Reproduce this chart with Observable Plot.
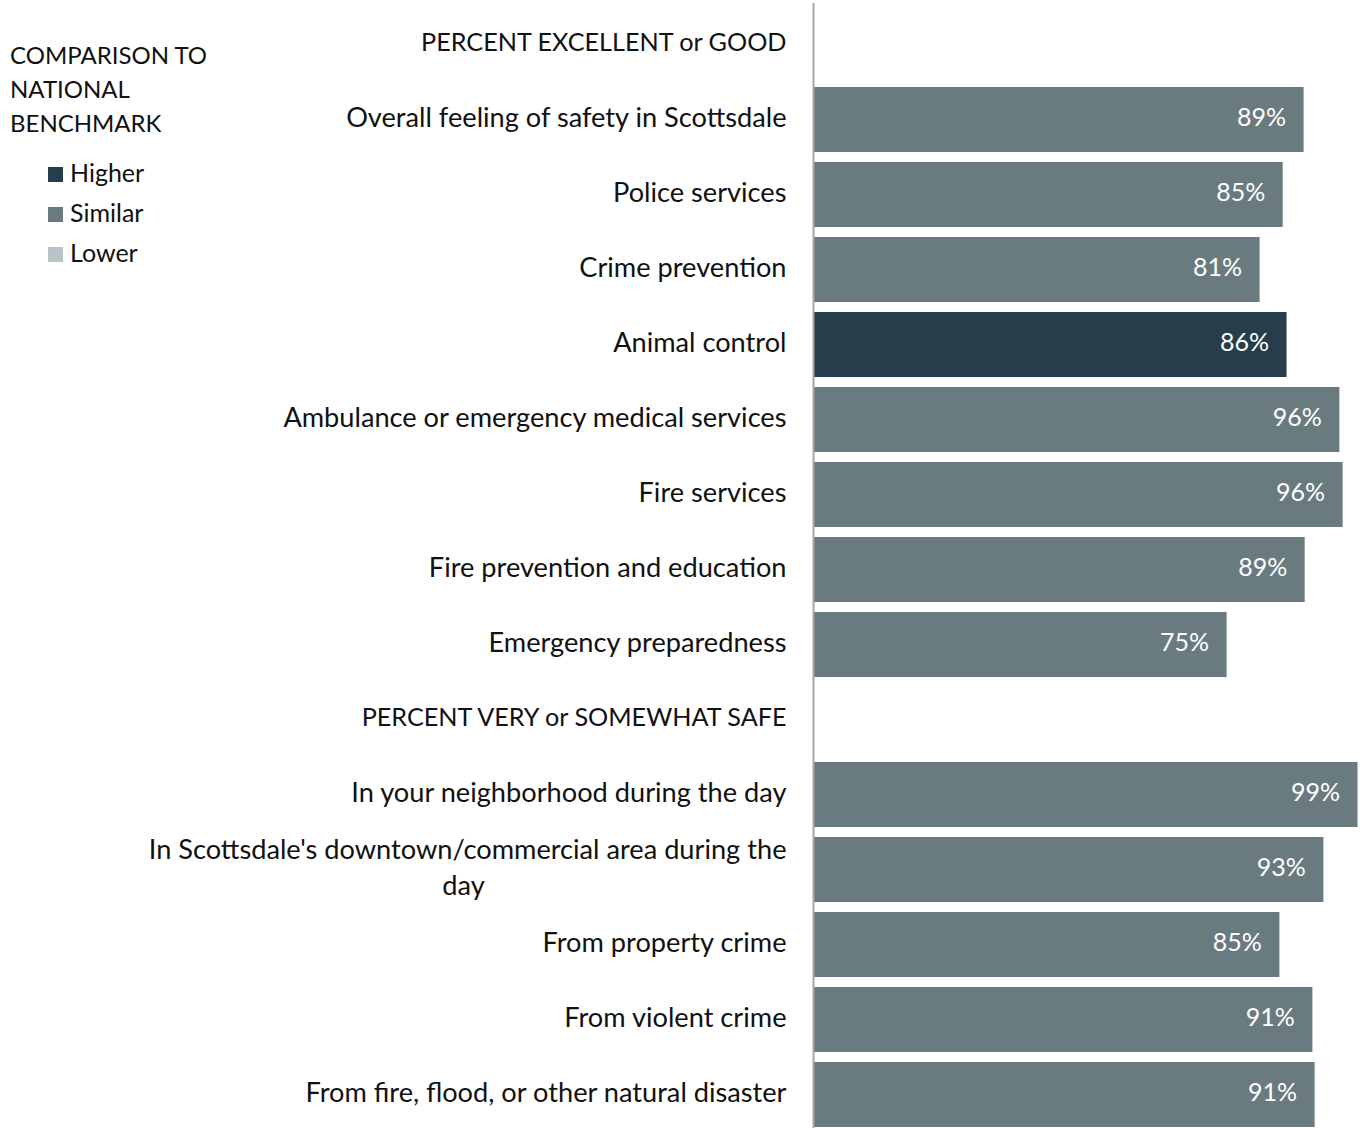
<!DOCTYPE html>
<html>
<head>
<meta charset="utf-8">
<script src="https://cdn.jsdelivr.net/npm/d3@7"></script>
<script src="https://cdn.jsdelivr.net/npm/@observablehq/plot@0.6"></script>
<style>
  html, body { margin: 0; padding: 0; background: #fff; overflow: hidden; }
  #wrap { position: relative; width: 1363px; height: 1128px; overflow: hidden; font-family: Lato, "Open Sans", sans-serif; }
  #legend { position: absolute; left: 10px; top: 38px; color: #111; font-size: 24px; line-height: 34px; }
  #legend .items { margin-top: 12px; margin-left: 38px; line-height: 40px; font-size: 25px; }
  #legend .sw { display: inline-block; width: 15px; height: 15px; margin-right: 7px; vertical-align: 0px; }
</style>
</head>
<body>
<div id="wrap">
  <div id="chart"></div>
  <div id="legend"></div>
</div>
<script>
const categories = [
  "PERCENT EXCELLENT or GOOD",
  "Overall feeling of safety in Scottsdale",
  "Police services",
  "Crime prevention",
  "Animal control",
  "Ambulance or emergency medical services",
  "Fire services",
  "Fire prevention and education",
  "Emergency preparedness",
  "PERCENT VERY or SOMEWHAT SAFE",
  "In your neighborhood during the day",
  "In Scottsdale's downtown/commercial area during the day",
  "From property crime",
  "From violent crime",
  "From fire, flood, or other natural disaster"
];
const values = [null, 89.2, 85.4, 81.2, 86.1, 95.7, 96.3, 89.4, 75.2, null, 99.0, 92.8, 84.8, 90.8, 91.2];
const labels = ["", "89%", "85%", "81%", "86%", "96%", "96%", "89%", "75%", "", "99%", "93%", "85%", "91%", "91%"];
const benchmark = ["", "Similar", "Similar", "Similar", "Higher", "Similar", "Similar", "Similar", "Similar", "", "Similar", "Similar", "Similar", "Similar", "Similar"];
const legendTitle = ["COMPARISON TO", "NATIONAL", "BENCHMARK"];
const levels = ["Higher", "Similar", "Lower"];
const levelColors = ["#263D4C", "#6A7B80", "#BAC3C6"];

const rows = categories.map((c, i) => ({category: c, value: values[i], label: labels[i], bench: benchmark[i], header: values[i] == null}));
const bars = rows.filter(d => d.value != null);
const wrapped = "In Scottsdale's downtown/commercial area during the day";
const plainLabels = rows.filter(d => d.category !== wrapped && !d.header);
const headerLabels = rows.filter(d => d.header);
const wrapRow = rows.filter(d => d.category === wrapped);

const chart = Plot.plot({
  width: 1363,
  height: 1136,
  marginLeft: 813,
  marginRight: 0,
  marginTop: 3,
  marginBottom: 0,
  style: {fontFamily: "Lato, 'Open Sans', sans-serif", background: "#fff"},
  x: {domain: [0, 100], axis: null},
  y: {domain: categories, axis: null, paddingInner: 0.14, paddingOuter: 0.07},
  color: {domain: levels, range: levelColors},
  marks: [
    Plot.barX(bars, {y: "category", x: "value", fill: "bench"}),
    Plot.ruleX([0], {stroke: "#A6A6A6", strokeWidth: 2}),
    Plot.text(bars, {y: "category", x: "value", text: "label", textAnchor: "end", dx: -18, dy: -2, fill: "white", fontSize: 25}),
    Plot.text(plainLabels, {y: "category", frameAnchor: "left", text: "category", textAnchor: "end", dx: -27, dy: -2, fill: "#111", fontSize: 27.2}),
    Plot.text(headerLabels, {y: "category", frameAnchor: "left", text: "category", textAnchor: "end", dx: -27, dy: -2, fill: "#111", fontSize: 25.2}),
    Plot.text(wrapRow, {y: "category", frameAnchor: "left", text: d => "In Scottsdale's downtown/commercial area during the", textAnchor: "end", dx: -27, dy: -20, fill: "#111", fontSize: 27.2}),
    Plot.text(wrapRow, {y: "category", frameAnchor: "left", text: d => "day", textAnchor: "middle", dx: -350, dy: 16, fill: "#111", fontSize: 27.2})
  ]
});
document.getElementById("chart").appendChild(chart);

const lg = document.getElementById("legend");
lg.innerHTML = legendTitle.map(t => `<div>${t}</div>`).join("") +
  `<div class="items">` + levels.map((l, i) => `<div><span class="sw" style="background:${levelColors[i]}"></span>${l}</div>`).join("") + `</div>`;
</script>
</body>
</html>
